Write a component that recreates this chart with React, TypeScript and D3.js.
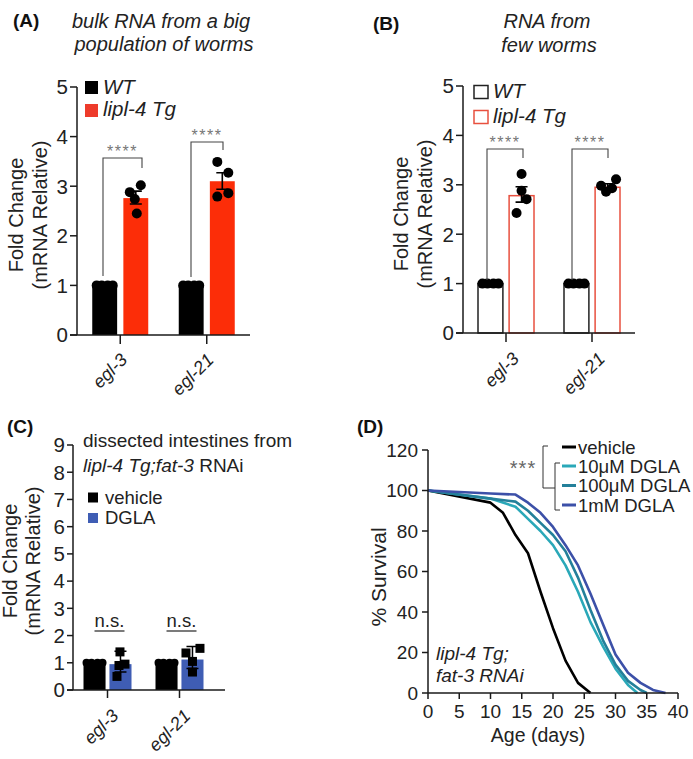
import React from 'react';
import * as d3 from 'd3';

// ---------- DATA ----------
const genes = ['egl-3', 'egl-21'];

// Panel A: bulk RNA
const aWT = [1, 1];
const aTg = [2.76, 3.1];
const aTgErrLo = [2.64, 2.94];
const aTgErrHi = [2.9, 3.27];
const aWTPts = [[1, 1, 1, 1], [1, 1, 1, 1]];
const aTgPts = [[2.88, 3.02, 2.74, 2.45], [3.49, 3.27, 2.79, 2.86]];

// Panel B: few worms
const bWT = [1, 1];
const bTg = [2.78, 2.95];
const bTgErrLo = [2.65, 2.89];
const bTgErrHi = [2.96, 3.02];
const bWTPts = [[1, 1, 1, 1], [1, 1, 1, 1]];
const bTgPts = [[3.22, 2.88, 2.71, 2.43], [2.98, 2.86, 2.93, 3.11]];

// Panel C: dissected intestines
const cVeh = [1, 1];
const cDGLA = [0.95, 1.12];
const cErrLo = [0.66, 0.79];
const cErrHi = [1.42, 1.6];
const cVehPts = [[1, 1, 1, 1], [1, 1, 1, 1]];
const cDGLAPts = [[1.4, 0.95, 0.9, 0.5], [1.36, 1.53, 1.05, 0.66]];

// Panel D: survival
const survVehicle: [number, number][] = [[0, 100], [10, 94], [12, 89], [14, 78], [16, 69], [18, 50], [20, 32], [22, 16], [24, 5], [26, 0]];
const surv10uM: [number, number][] = [[0, 100], [10, 96], [14, 92], [16, 86], [18, 80], [20, 73], [22, 63], [24, 50], [26, 35], [28, 23], [30, 12], [32, 4], [33.5, 0]];
const surv100uM: [number, number][] = [[0, 100], [10, 96], [14, 94.5], [16, 90], [18, 84], [20, 78], [22, 70], [24, 57], [26, 41], [28, 26], [30, 14], [32, 6], [34, 1.5], [35, 0]];
const surv1mM: [number, number][] = [[0, 100], [10, 98.5], [14, 98], [16, 94], [18, 89], [20, 82], [22, 73], [24, 63], [26, 49], [28, 34], [30, 19], [32, 10], [34, 5], [36, 1.5], [38, 0]];
const survSeries = [
  { name: 'vehicle', data: survVehicle, color: '#000000' },
  { name: '10μM DGLA', data: surv10uM, color: '#2aa8b8' },
  { name: '100μM DGLA', data: surv100uM, color: '#24809a' },
  { name: '1mM DGLA', data: surv1mM, color: '#3c50a8' },
];
const survXTicks = [0, 5, 10, 15, 20, 25, 30, 35, 40];
const survYTicks = [0, 20, 40, 60, 80, 100, 120];

// ---------- STYLE ----------
const FONT = '"Liberation Sans", Arial, Helvetica, sans-serif';
const AX = '#1a1a1a';
const RED = '#fc2d08';
const RED_LEG = '#ee3b2b';
const RED_OUT = '#e8503f';
const BLUE = '#3f5db4';

// jitter offsets (layout only)
const aWTJit = [-8, -3, 3, 8];
const aTgJit = [[-6, 5, -1, 1], [-5, 6, -5, 6]];
const bTgJit = [[0, 0, 5, -5], [-6.5, -1.5, 4.5, 8.5]];
const cVehJit = [-8, -3, 3, 8];
const cDGLAJit = [[-0.5, 4.5, -1.5, -3.5], [-6.5, 7.5, 0, 0]];

type YAxisProps = { x: number; y: d3.ScaleLinear<number, number>; ticks: number[]; fs: number; tickLen?: number; labelGap?: number };
function YAxis({ x, y, ticks, fs, tickLen = 7, labelGap = 9 }: YAxisProps) {
  const [d0, d1] = y.domain();
  return (
    <g>
      <line x1={x} x2={x} y1={y(d0)} y2={y(d1)} stroke={AX} strokeWidth={1.5} />
      {ticks.map((t) => (
        <g key={t}>
          <line x1={x - tickLen} x2={x} y1={y(t)} y2={y(t)} stroke={AX} strokeWidth={1.5} />
          <text x={x - labelGap} y={y(t)} dy="0.36em" textAnchor="end" fontSize={fs} fill="#222">{t}</text>
        </g>
      ))}
    </g>
  );
}

function YLabel2({ x1, x2, cy, l1, l2, fs }: { x1: number; x2: number; cy: number; l1: string; l2: string; fs: number }) {
  return (
    <g fontSize={fs} fill="#222">
      <text transform={`translate(${x1},${cy}) rotate(-90)`} textAnchor="middle">{l1}</text>
      <text transform={`translate(${x2},${cy}) rotate(-90)`} textAnchor="middle">{l2}</text>
    </g>
  );
}

function Sig({ x1, x2, yTop, yL, yR, label }: { x1: number; x2: number; yTop: number; yL: number; yR: number; label: string }) {
  return (
    <g>
      <path d={`M${x1},${yL}V${yTop}H${x2}V${yR}`} fill="none" stroke="#444" strokeWidth={1.1} />
      <text x={(x1 + x2) / 2} y={yTop - 1} textAnchor="middle" fontSize={16} fill="#777" letterSpacing={1.5}>{label}</text>
    </g>
  );
}

// ----- Panel A -----
function PanelA() {
  const y = d3.scaleLinear().domain([0, 5]).range([335, 87]);
  const x = d3.scalePoint<string>().domain(genes).range([77, 250]).padding(0.5);
  const sub = d3.scaleBand<string>().domain(['WT', 'Tg']).range([-28, 28]).paddingInner(0.2);
  const bw = sub.bandwidth();
  return (
    <g>
      <text x={13} y={27} fontSize={19} fontWeight="bold" fill="#111">(A)</text>
      <g fontStyle="italic" fontSize={20} fill="#222" textAnchor="middle">
        <text x={161} y={27.5}>bulk RNA from a big</text>
        <text x={164} y={51}>population of worms</text>
      </g>
      <YLabel2 x1={22.5} x2={46.5} cy={215} l1="Fold Change" l2="(mRNA Relative)" fs={20} />
      {genes.map((g, i) => {
        const cx = x(g)!;
        const wx = cx + sub('WT')!;
        const tx = cx + sub('Tg')!;
        const tc = tx + bw / 2;
        return (
          <g key={g}>
            <rect x={wx} y={y(aWT[i])} width={bw} height={y(0) - y(aWT[i])} fill="#000" />
            <rect x={tx} y={y(aTg[i])} width={bw} height={y(0) - y(aTg[i])} fill={RED} />
            {aWTPts[i].map((v, j) => <circle key={j} cx={wx + bw / 2 + aWTJit[j]} cy={y(v)} r={5} fill="#000" />)}
            <path d={`M${tc - 6},${y(aTgErrHi[i])}H${tc + 6}M${tc},${y(aTgErrHi[i])}V${y(aTgErrLo[i])}M${tc - 6},${y(aTgErrLo[i])}H${tc + 6}`} stroke="#000" strokeWidth={1.6} fill="none" />
            {aTgPts[i].map((v, j) => <circle key={j} cx={tc + aTgJit[i][j]} cy={y(v)} r={5} fill="#000" />)}
          </g>
        );
      })}
      <Sig x1={103} x2={142} yTop={158} yL={276} yR={168} label="****" />
      <Sig x1={191} x2={223} yTop={142} yL={277} yR={150} label="****" />
      <YAxis x={77} y={y} ticks={[0, 1, 2, 3, 4, 5]} fs={20.5} />
      <line x1={70} x2={250} y1={335} y2={335} stroke={AX} strokeWidth={1.5} />
      {genes.map((g) => (
        <g key={g}>
          <line x1={x(g)} x2={x(g)} y1={335} y2={344} stroke={AX} strokeWidth={1.5} />
          <text transform={`translate(${x(g)! + 8},${361}) rotate(-45)`} textAnchor="end" fontStyle="italic" fontSize={18} fill="#222">{g}</text>
        </g>
      ))}
      <rect x={85} y={81} width={13} height={13} fill="#000" />
      <rect x={85} y={104} width={13} height={13} fill={RED_LEG} />
      <g fontStyle="italic" fontSize={20.5} fill="#222">
        <text x={103} y={94}>WT</text>
        <text x={103} y={116}>lipl-4 Tg</text>
      </g>
    </g>
  );
}

// ----- Panel B -----
function PanelB() {
  const y = d3.scaleLinear().domain([0, 5]).range([333, 86]);
  const x = d3.scalePoint<string>().domain(genes).range([463, 635]).padding(0.5);
  const sub = d3.scaleBand<string>().domain(['WT', 'Tg']).range([-28, 28]).paddingInner(0.2);
  const bw = sub.bandwidth();
  return (
    <g>
      <text x={373} y={30} fontSize={19} fontWeight="bold" fill="#111">(B)</text>
      <g fontStyle="italic" fontSize={20} fill="#222" textAnchor="middle">
        <text x={547} y={27.5}>RNA from</text>
        <text x={549} y={52}>few worms</text>
      </g>
      <YLabel2 x1={407.5} x2={432} cy={214} l1="Fold Change" l2="(mRNA Relative)" fs={20} />
      {genes.map((g, i) => {
        const cx = x(g)!;
        const wx = cx + sub('WT')!;
        const tx = cx + sub('Tg')!;
        const tc = tx + bw / 2;
        return (
          <g key={g}>
            <rect x={wx} y={y(bWT[i])} width={bw} height={y(0) - y(bWT[i])} fill="#fff" stroke="#222" strokeWidth={1.5} />
            <rect x={tx} y={y(bTg[i])} width={bw} height={y(0) - y(bTg[i])} fill="#fff" stroke={RED_OUT} strokeWidth={1.5} />
            {bWTPts[i].map((v, j) => <circle key={j} cx={wx + bw / 2 + aWTJit[j]} cy={y(v)} r={5} fill="#000" />)}
            <path d={`M${tc - 6},${y(bTgErrHi[i])}H${tc + 6}M${tc},${y(bTgErrHi[i])}V${y(bTgErrLo[i])}M${tc - 6},${y(bTgErrLo[i])}H${tc + 6}`} stroke="#000" strokeWidth={1.6} fill="none" />
            {bTgPts[i].map((v, j) => <circle key={j} cx={tc + bTgJit[i][j]} cy={y(v)} r={5} fill="#000" />)}
          </g>
        );
      })}
      <Sig x1={487} x2={523} yTop={149} yL={280} yR={158} label="****" />
      <Sig x1={572} x2={608} yTop={149} yL={280} yR={158} label="****" />
      <YAxis x={463} y={y} ticks={[0, 1, 2, 3, 4, 5]} fs={20.5} />
      <line x1={456} x2={635} y1={333} y2={333} stroke={AX} strokeWidth={1.5} />
      {genes.map((g) => (
        <g key={g}>
          <line x1={x(g)} x2={x(g)} y1={333} y2={342} stroke={AX} strokeWidth={1.5} />
          <text transform={`translate(${x(g)! + 14},${360}) rotate(-45)`} textAnchor="end" fontStyle="italic" fontSize={18} fill="#222">{g}</text>
        </g>
      ))}
      <rect x={474} y={85.5} width={14} height={13} fill="#fff" stroke="#222" strokeWidth={1.5} />
      <rect x={474} y={110.5} width={14} height={13} fill="#fff" stroke={RED_OUT} strokeWidth={1.5} />
      <g fontStyle="italic" fontSize={20.5} fill="#222">
        <text x={493} y={98}>WT</text>
        <text x={493} y={123}>lipl-4 Tg</text>
      </g>
    </g>
  );
}

// ----- Panel C -----
function PanelC() {
  const y = d3.scaleLinear().domain([0, 9]).range([690, 445]);
  const x = d3.scalePoint<string>().domain(genes).range([71.5, 215.5]).padding(0.5);
  const sub = d3.scaleBand<string>().domain(['veh', 'dgla']).range([-24, 24]).paddingInner(0.15);
  const bw = sub.bandwidth();
  const sq = 9;
  return (
    <g>
      <text x={7} y={433} fontSize={19} fontWeight="bold" fill="#111">(C)</text>
      <text x={83} y={447} fontSize={19} fill="#222">dissected intestines from</text>
      <text x={83} y={472} fontSize={19} fill="#222">
        <tspan fontStyle="italic">lipl-4 Tg;fat-3</tspan> RNAi
      </text>
      <YLabel2 x1={16.5} x2={39.5} cy={561} l1="Fold Change" l2="(mRNA Relative)" fs={20} />
      {genes.map((g, i) => {
        const cx = x(g)!;
        const vx = cx + sub('veh')!;
        const dx = cx + sub('dgla')!;
        const dc = dx + bw / 2;
        return (
          <g key={g}>
            <rect x={vx} y={y(cVeh[i])} width={bw} height={y(0) - y(cVeh[i])} fill="#000" />
            <rect x={dx} y={y(cDGLA[i])} width={bw} height={y(0) - y(cDGLA[i])} fill={BLUE} />
            {cVehPts[i].map((v, j) => <circle key={j} cx={vx + bw / 2 + cVehJit[j]} cy={y(v)} r={4} fill="#000" />)}
            <path d={`M${dc - 6},${y(cErrHi[i])}H${dc + 6}M${dc},${y(cErrHi[i])}V${y(cErrLo[i])}M${dc - 6},${y(cErrLo[i])}H${dc + 6}`} stroke="#000" strokeWidth={1.5} fill="none" />
            {cDGLAPts[i].map((v, j) => <rect key={j} x={dc + cDGLAJit[i][j] - sq / 2} y={y(v) - sq / 2} width={sq} height={sq} fill="#000" />)}
            <text x={cx + 2} y={627} textAnchor="middle" fontSize={18.5} fill="#222">n.s.</text>
            <line x1={cx - 13} x2={cx + 17} y1={631} y2={631} stroke="#222" strokeWidth={1.2} />
          </g>
        );
      })}
      <YAxis x={73} y={y} ticks={[0, 1, 2, 3, 4, 5, 6, 7, 8, 9]} fs={20.5} tickLen={6} labelGap={8} />
      <line x1={67} x2={225} y1={690} y2={690} stroke={AX} strokeWidth={1.5} />
      {genes.map((g) => (
        <g key={g}>
          <line x1={x(g)} x2={x(g)} y1={690} y2={698} stroke={AX} strokeWidth={1.5} />
          <text transform={`translate(${x(g)! + 12},${717}) rotate(-45)`} textAnchor="end" fontStyle="italic" fontSize={18} fill="#222">{g}</text>
        </g>
      ))}
      <rect x={88} y={492.5} width={10} height={10} fill="#000" />
      <rect x={88} y={513} width={10} height={10} fill={BLUE} />
      <text x={105} y={503.5} fontSize={18.5} fill="#222">vehicle</text>
      <text x={105} y={524} fontSize={18.5} fill="#222">DGLA</text>
    </g>
  );
}

// ----- Panel D -----
function PanelD() {
  const x = d3.scaleLinear().domain([0, 40]).range([428, 678]);
  const y = d3.scaleLinear().domain([0, 120]).range([693, 450]);
  const line = d3.line<[number, number]>().x((d) => x(d[0])).y((d) => y(d[1]));
  const legY = [447, 466, 485.5, 505];
  return (
    <g>
      <text x={357} y={433} fontSize={19} fontWeight="bold" fill="#111">(D)</text>
      {survSeries.map((s) => (
        <path key={s.name} d={line(s.data)!} fill="none" stroke={s.color} strokeWidth={2.6} strokeLinejoin="round" />
      ))}
      <YAxis x={428} y={y} ticks={survYTicks} fs={19} tickLen={6} labelGap={10} />
      <line x1={428} x2={678} y1={693} y2={693} stroke={AX} strokeWidth={1.5} />
      {survXTicks.map((t) => (
        <g key={t}>
          <line x1={x(t)} x2={x(t)} y1={693} y2={699} stroke={AX} strokeWidth={1.5} />
          <text x={x(t)} y={718} textAnchor="middle" fontSize={19} fill="#222">{t}</text>
        </g>
      ))}
      <text x={538} y={742} textAnchor="middle" fontSize={19.5} fill="#222">Age (days)</text>
      <text transform={`translate(386,577) rotate(-90)`} textAnchor="middle" fontSize={21} fill="#222">% Survival</text>
      <g fontStyle="italic" fontSize={19} fill="#222">
        <text x={436} y={660}>lipl-4 Tg;</text>
        <text x={436} y={682}>fat-3 RNAi</text>
      </g>
      {survSeries.map((s, i) => (
        <g key={s.name}>
          <line x1={562} x2={576} y1={legY[i]} y2={legY[i]} stroke={s.color} strokeWidth={3} />
          <text x={578} y={legY[i]} dy="0.36em" fontSize={18.5} fill="#222">{s.name}</text>
        </g>
      ))}
      <path d="M548,446H543V488H555" fill="none" stroke="#333" strokeWidth={1} />
      <path d="M560,463H555V510H560" fill="none" stroke="#333" strokeWidth={1} />
      <text x={523} y={475} textAnchor="middle" fontSize={20} fill="#666" letterSpacing={1}>***</text>
    </g>
  );
}

export default function App() {
  return (
    <svg width={693} height={759} viewBox="0 0 693 759" style={{ display: 'block', position: 'absolute', left: 0, top: 0, background: '#fff', fontFamily: FONT }}>
      <rect width={693} height={759} fill="#fff" />
      <PanelA />
      <PanelB />
      <PanelC />
      <PanelD />
    </svg>
  );
}
